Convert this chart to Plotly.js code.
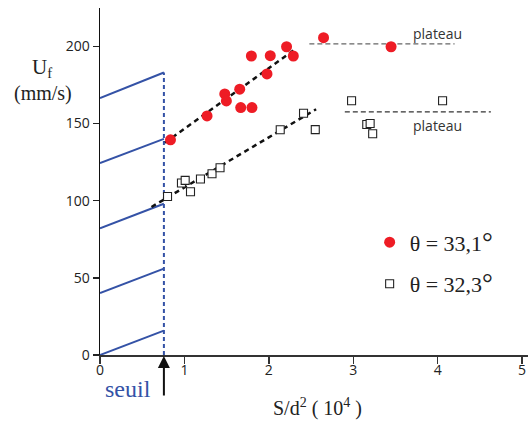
<!DOCTYPE html>
<html><head><meta charset="utf-8">
<script src="https://cdn.plot.ly/plotly-3.0.1.min.js"></script>
<style>html,body{margin:0;padding:0;background:#fff}#c{width:528px;height:422px}</style>
</head><body><div id="c"></div>
<script>
// Red points, theta = 33.1°
const redX = [0.835, 1.268, 1.478, 1.497, 1.655, 1.667, 1.80, 1.793, 1.978, 2.017, 2.21, 2.29, 2.648, 3.448];
const redY = [139.4, 154.9, 169.1, 164.6, 172.2, 160.3, 160.3, 193.7, 182.1, 193.9, 199.7, 193.7, 205.6, 199.7];
// Open squares, theta = 32.3°
const sqX = [0.80, 0.965, 1.009, 1.072, 1.19, 1.327, 1.422, 2.135, 2.411, 2.55, 2.98, 4.058, 3.16, 3.20, 3.23];
const sqY = [102.7, 111.4, 113.1, 105.8, 114.0, 117.4, 121.3, 145.9, 156.6, 146.0, 164.7, 164.7, 149.3, 150.0, 143.3];
// Linear fits
const redFitX = [0.77, 2.29];
const redFitY = [137.5, 197.2];
const sqFitX = [0.61, 2.56];
const sqFitY = [95.9, 159.2];
// Plateaus
const redPlatX = [2.48, 4.20];
const redPlatY = [201.5, 201.5];
const sqPlatX = [2.90, 4.63];
const sqPlatY = [157.5, 157.5];
// Threshold (seuil)
const seuilX = 0.757;
const seuilTop = 183;
// Blue slanted segments
const blueStart = [0, 40.2, 82, 124.3, 166.4];
const blueEnd = [15.8, 56, 98, 140, 183];
const xTicks = [0, 1, 2, 3, 4, 5];
const yTicks = [0, 50, 100, 150, 200];
const deg = '<span style="font-size:27px">°</span>';
const labels = {red: 'θ = 33,1' + deg, sq: 'θ = 32,3' + deg};

const blue = '#3452a6';
const traces = [];
blueStart.forEach((s, i) => {
  traces.push({x: [0, seuilX], y: [s, blueEnd[i]], mode: 'lines', line: {color: blue, width: 2}, showlegend: false, hoverinfo: 'skip'});
});
traces.push({x: [seuilX, seuilX], y: [0, seuilTop], mode: 'lines', line: {color: blue, width: 2, dash: '4px,3px'}, showlegend: false});
traces.push({x: redPlatX, y: redPlatY, mode: 'lines', line: {color: '#666', width: 1.2, dash: '5px,3px'}, showlegend: false});
traces.push({x: sqPlatX, y: sqPlatY, mode: 'lines', line: {color: '#333', width: 1.2, dash: '5px,3px'}, showlegend: false});
traces.push({x: redFitX, y: redFitY, mode: 'lines', line: {color: '#111', width: 2.5, dash: '5px,4px'}, showlegend: false});
traces.push({x: sqFitX, y: sqFitY, mode: 'lines', line: {color: '#111', width: 2.5, dash: '5px,4px'}, showlegend: false});
traces.push({x: redX, y: redY, mode: 'markers', name: labels.red, legendgroup: 'a',
  marker: {color: '#ee1c25', size: 11, symbol: 'circle'}});
traces.push({x: sqX, y: sqY, mode: 'markers', name: labels.sq, legendgroup: 'b',
  marker: {color: '#fff', size: 8, symbol: 'square', line: {color: '#222', width: 1.1}}});

const serif = 'Liberation Serif, Times New Roman, serif';
const sans = 'Open Sans, sans-serif';
const layout = {
  width: 528, height: 422,
  margin: {l: 100, r: 0, t: 8, b: 66.5},
  paper_bgcolor: '#fff', plot_bgcolor: '#fff',
  showlegend: true,
  legend: {x: 0.63, y: 0.385, xanchor: 'left', yanchor: 'top', font: {family: serif, size: 22, color: '#222'},
    traceorder: 'grouped', tracegroupgap: 10, bgcolor: 'rgba(0,0,0,0)'},
  xaxis: {range: [0, 5.07], tickvals: xTicks, ticks: 'outside', ticklen: 7, tickwidth: 1.5, tickcolor: '#333',
    ticklabelstandoff: -6,
    showgrid: false, zeroline: false, showline: true, linecolor: '#333', linewidth: 2,
    tickfont: {family: sans, size: 14, color: '#222'}},
  yaxis: {range: [0, 224.8], tickvals: yTicks, ticks: 'outside', ticklen: 6, tickwidth: 1.5, tickcolor: '#222',
    showgrid: false, zeroline: false, showline: true, linecolor: '#111', linewidth: 1.5,
    tickfont: {family: sans, size: 14, color: '#222'}},
  annotations: [
    {xref: 'paper', yref: 'paper', x: -0.135, y: 0.827, xanchor: 'center', yanchor: 'middle', text: 'U<sub>f</sub>', showarrow: false, font: {family: serif, size: 21, color: '#222'}},
    {xref: 'paper', yref: 'paper', x: -0.133, y: 0.755, xanchor: 'center', yanchor: 'middle', text: '(mm/s)', showarrow: false, font: {family: serif, size: 20, color: '#222'}},
    {xref: 'paper', yref: 'paper', x: 0.509, y: -0.151, xanchor: 'center', yanchor: 'middle', text: 'S/d<sup>2</sup> ( 10<sup>4</sup> )', showarrow: false, font: {family: serif, size: 20, color: '#222'}},
    {x: 4.0, y: 208.5, text: 'plateau', showarrow: false, font: {family: sans, size: 14, color: '#333'}},
    {x: 4.0, y: 149, text: 'plateau', showarrow: false, font: {family: sans, size: 14, color: '#333'}},
    {x: 0.33, xref: 'x', yref: 'paper', y: -0.099, xanchor: 'center', yanchor: 'middle', text: 'seuil', showarrow: false, font: {family: serif, size: 24, color: blue}},
    {x: seuilX, y: 0, xref: 'x', yref: 'y', text: '', showarrow: true, ax: 0, ay: 42, arrowhead: 2, arrowsize: 1.2, arrowwidth: 2, arrowcolor: '#111', standoff: 1}
  ]
};
Plotly.newPlot('c', traces, layout, {displayModeBar: false, staticPlot: true});
</script></body></html>
